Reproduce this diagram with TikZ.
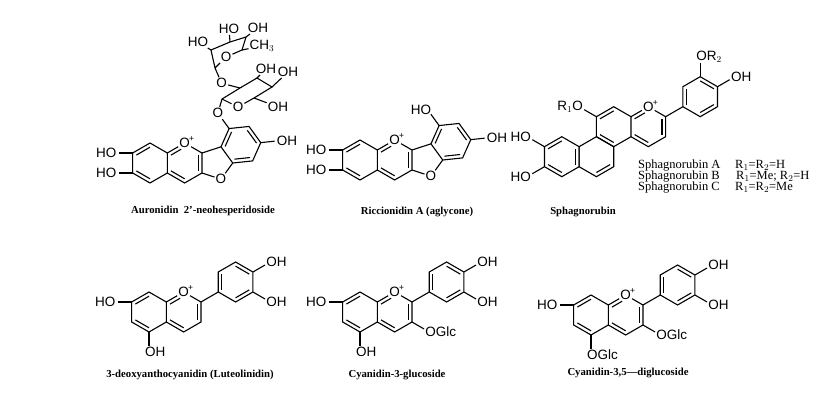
\documentclass[tikz,border=0pt]{standalone}
\usepackage{fontspec}
\setmainfont{Liberation Serif}
\newfontfamily\atomfont{Liberation Sans}
\usetikzlibrary{calc}
\newcommand\af{\atomfont\fontsize{13.5}{14}\selectfont}
\tikzset{
 bond/.style={line width=1.1pt},
 atom/.style={font=\af,inner sep=1pt},
 plus/.style={font=\atomfont\fontsize{8.5}{9}\selectfont,inner sep=0pt},
 caption/.style={font=\bfseries\fontsize{10.7}{12}\selectfont},
 legend/.style={font=\fontsize{12.5}{13}\selectfont,anchor=base west,inner sep=0pt}}
\newcommand\hexat[3]{\coordinate (#1c) at (#2,#3);
 \foreach \i/\a in {1/90,2/30,3/-30,4/-90,5/210,6/150}{\coordinate (#1\i) at ($(#2,#3)+(\a:20)$);}}
\newcommand\ring[1]{\draw[bond] (#11)--(#12)--(#13)--(#14)--(#15)--(#16)--cycle;}
\newcommand\inb[3]{\draw[bond] ($(#2)!0.21!(#1c)$)--($(#3)!0.21!(#1c)$);}
\newcommand\inbo[3]{\draw[bond,shorten >=4pt] ($(#2)!0.21!(#1c)$)--($(#3)!0.21!(#1c)$);}
\newcommand\subR[3]{\draw[bond] (#1)--($(#1)+(#2:14)$);
 \node[atom,anchor=west] (#1t) at ($(#1)+(#2:20)+(-5,0)$) {#3};}
\newcommand\subL[3]{\draw[bond] (#1)--($(#1)+(#2:14)$);
 \node[atom,anchor=east] (#1t) at ($(#1)+(#2:20)+(5,0)$) {#3};}
\newcommand\oxplus[2]{\node[atom] (#1) at (#2) {O};
 \node[plus] (#1p) at ($(#1.north east)+(0.5,-2)$) {+};}
% flavylium core
\newcommand\flav[3]{%
 \hexat{#1a}{#2}{#3}\hexat{#1c}{#2+34.64}{#3}\hexat{#1b}{#2+86.6}{#3+30}
 \ring{#1a}\ring{#1b}
 \oxplus{#1o}{#1c1}
 \draw[bond] (#1a2)--(#1o)--(#1c2)--(#1c3)--(#1c4)--(#1a3);
 \draw[bond] (#1c2)--(#1b5);
 \inb{#1a}{#1a1}{#1a6}\inb{#1a}{#1a4}{#1a5}
 \inbo{#1c}{#1a2}{#1c1}\inb{#1c}{#1c2}{#1c3}\inb{#1c}{#1c4}{#1a3}
 \inb{#1b}{#1b5}{#1b6}\inb{#1b}{#1b1}{#1b2}\inb{#1b}{#1b3}{#1b4}
 \subL{#1a6}{180}{HO}
 \subR{#1b2}{30}{OH}\subR{#1b3}{-30}{OH}}
% auronidin core
\newcommand\aur[3]{%
 \hexat{#1a}{#2}{#3}\hexat{#1c}{#2+34.64}{#3}
 \coordinate (#1f) at (#2+65.72,#3);
 \coordinate (#1f7) at ($(#1f)+(0:17.01)$);
 \coordinate (#1f3) at ($(#1f)+(72:17.01)$);
 \coordinate (#1dc) at ($(#1f)+(36:31.08)$);
 \foreach \i/\a in {1/-114,2/-54,3/6,4/66,5/126,6/186}{\coordinate (#1d\i) at ($(#1dc)+(\a:20)$);}
 \node[atom] (#1fo) at ($(#1f)+(-72:17.01)$) {O};
 \ring{#1a}\ring{#1d}
 \oxplus{#1o}{#1c1}
 \draw[bond] (#1a2)--(#1o)--(#1c2)--(#1c3)--(#1c4)--(#1a3);
 \draw[bond] (#1c2)--(#1f3);
 \draw[bond] (#1c3)--(#1fo)--(#1f7);
 \inb{#1a}{#1a1}{#1a6}\inb{#1a}{#1a4}{#1a5}
 \inbo{#1c}{#1a2}{#1c1}\inb{#1c}{#1c2}{#1c3}\inb{#1c}{#1c4}{#1a3}
 \inb{#1d}{#1d1}{#1d2}\inb{#1d}{#1d3}{#1d4}\inb{#1d}{#1d5}{#1d6}
 \subL{#1a6}{180}{HO}\subL{#1a5}{180}{HO}
 \subR{#1d3}{6}{OH}}
\begin{document}
\begin{tikzpicture}[x=1pt,y=1pt]
\useasboundingbox (0,-409) rectangle (820,0);
% ---- Auronidin 2'-neohesperidoside
\aur{U}{150}{-163}
\node[atom] (Ugo) at ($(Ud5)+(126:19)$) {O};
\draw[bond] (Ud5)--(Ugo);
\coordinate (G1) at (222,-99); \coordinate (G2) at (240,-88);
\coordinate (G3) at (257,-78); \coordinate (G4) at (272,-87);
\coordinate (G5) at (254,-98);
\node[atom] (Gro) at (238,-107) {O};
\node[atom] (Glo) at (221.7,-83.3) {O};
\draw[bond] (Ugo)--(G1)--(G2)--(G3)--(G4)--(G5)--(Gro)--(G1);
\draw[bond] (G2)--(Glo);
\node[atom] (Gh5) at (266,-69) {OH};
\node[atom] (Gh6) at (288,-72) {OH};
\node[atom] (Gh7) at (278,-107) {OH};
\draw[bond] (G3)--(Gh5) (G4)--(Gh6) (G5)--(Gh7);
\coordinate (S1) at (215,-68); \coordinate (S2) at (211,-50);
\coordinate (S3) at (230,-42); \coordinate (S4) at (246,-37);
\coordinate (S5) at (242,-50);
\node[atom] (Sro) at (226,-57) {O};
\draw[bond] (Glo)--(S1)--(S2)--(S3)--(S4)--(S5)--(Sro)--(S1);
\node[atom] (Sh2) at (198,-42) {HO};
\node[atom] (Sh3) at (229,-29) {HO};
\node[atom] (Sh4) at (258,-28) {OH};
\node[atom] (Sh5) at (262,-46) {CH$_3$};
\draw[bond] (S2)--(Sh2) (S3)--(Sh3) (S4)--(Sh4) (S5)--(Sh5);
\node[caption] (capU) at (203,-210.7) {Auronidin\ \ 2’-neohesperidoside};
% ---- Riccionidin A
\aur{R}{360}{-160}
\subL{Rd5}{126}{HO}
\node[caption] (capR) at (417,-212) {Riccionidin A (aglycone)};
% ---- Sphagnorubin
\hexat{Y}{648.3}{-126.7}\hexat{P}{613.7}{-126.7}\hexat{Q}{596.4}{-156.7}
\hexat{X}{561.8}{-156.7}\hexat{B}{700.2}{-96.7}
\ring{P}\ring{Q}\ring{X}\ring{B}
\oxplus{Yo}{Y1}
\draw[bond] (Y6)--(Yo)--(Y2)--(Y3)--(Y4)--(Y5);
\draw[bond] (Y2)--(B5);
\inbo{Y}{Y6}{Y1}\inb{Y}{Y2}{Y3}\inb{Y}{Y4}{Y5}
\inb{P}{P1}{P6}\inb{P}{P4}{P5}
\inb{Q}{Q3}{Q4}\inb{X}{X2}{X3}
\inb{X}{X1}{X6}\inb{X}{X4}{X5}
\inb{B}{B5}{B6}\inb{B}{B1}{B2}\inb{B}{B3}{B4}
\subL{P6}{150}{R$_1$O}
\subL{X6}{150}{HO}\subL{X5}{210}{HO}
\subR{B1}{90}{OR$_2$}\subR{B2}{30}{OH}
\node[legend] (l1) at (638,-168.3) {Sphagnorubin A};
\node[legend] (l2) at (638,-179.3) {Sphagnorubin B};
\node[legend] (l3) at (638,-190.3) {Sphagnorubin C};
\node[legend] (m1) at (735,-168.3) {R$_1$=R$_2$=H};
\node[legend] (m2) at (736,-179.3) {R$_1$=Me; R$_2$=H};
\node[legend] (m3) at (735,-190.3) {R$_1$=R$_2$=Me};
\node[caption] (capS) at (583,-211.7) {Sphagnorubin};
% ---- bottom row
\flav{L}{149}{-312}
\subR{La4}{-90}{OH}
\node[caption] (capL) at (190,-375) {3-deoxyanthocyanidin (Luteolinidin)};
\flav{M}{360}{-312}
\subR{Ma4}{-90}{OH}\subR{Mc3}{-30}{OGlc}
\node[caption] (capM) at (397,-375) {Cyanidin-3-glucoside};
\flav{N}{591}{-315}
\subR{Na4}{-90}{OGlc}\subR{Nc3}{-30}{OGlc}
\node[caption] (capN) at (628,-372.7) {Cyanidin-3,5—diglucoside};
\end{tikzpicture}
\end{document}
